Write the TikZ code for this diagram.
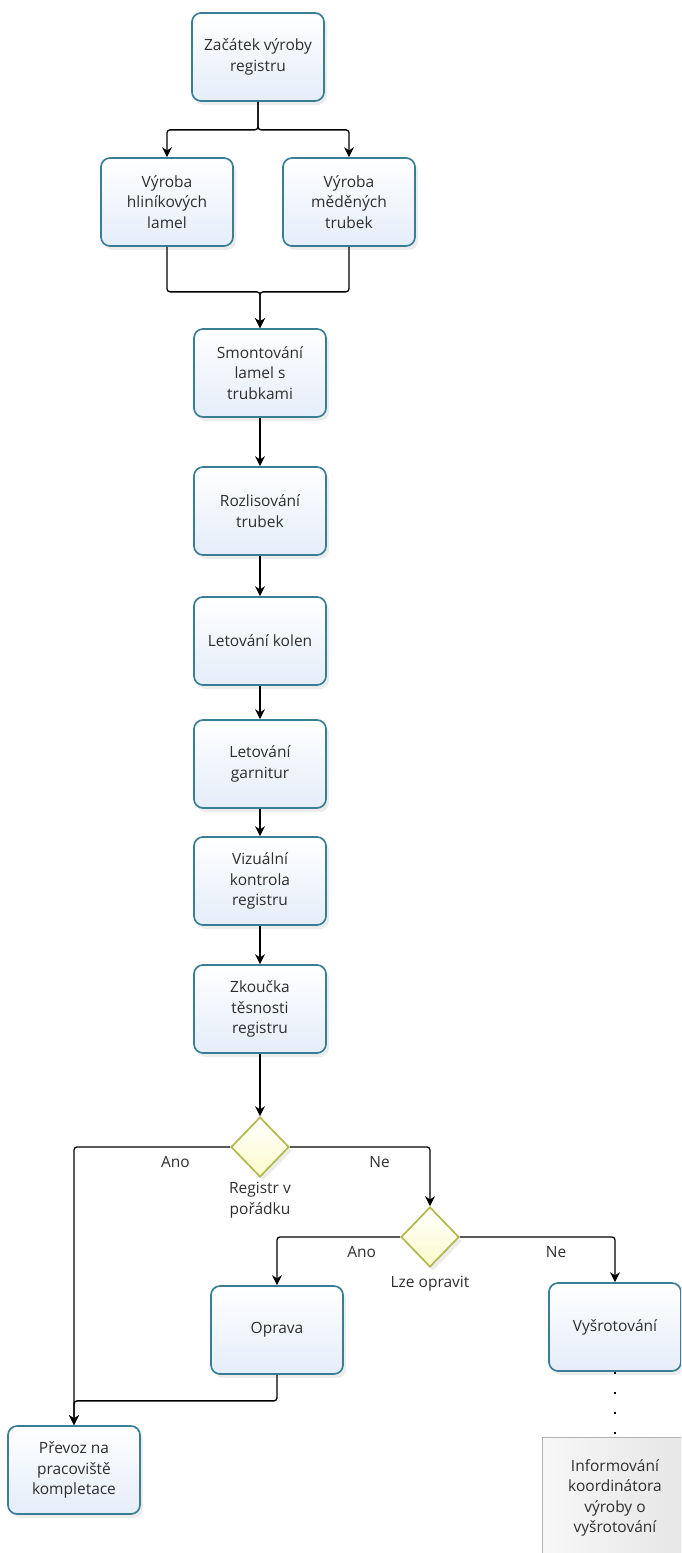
\documentclass[tikz,border=0pt]{standalone}
\usepackage{fontspec}
\setmainfont{Open Sans}
\usetikzlibrary{shapes,shapes.geometric,arrows.meta,positioning,shadows}

\definecolor{boxline}{HTML}{3A7E95}
\definecolor{boxfill}{HTML}{E4EDF9}
\definecolor{decline}{HTML}{B3B84C}
\definecolor{decfill}{HTML}{FBFBCB}
\definecolor{txt}{HTML}{2E2E2E}

\tikzset{
  process/.style={draw=boxline, line width=1.7pt, rounded corners=9pt,
    top color=white, bottom color=boxfill, text=txt, align=center,
    minimum width=132pt, minimum height=88pt, inner sep=2pt,
    drop shadow={shadow xshift=3pt, shadow yshift=-4pt, opacity=0.15}},
  decision/.style={diamond, draw=decline, line width=1.7pt,
    top color=white, bottom color=decfill,
    minimum width=58pt, minimum height=60pt, inner sep=0pt,
    drop shadow={shadow xshift=3pt, shadow yshift=-4pt, opacity=0.15}},
  report/.style={draw=gray!60, line width=0.8pt, left color=gray!6,
    right color=gray!20, text=txt, align=center,
    minimum width=146pt, minimum height=122pt},
  note/.style={text=txt, align=center},
  lbl/.style={text=txt, below=5pt},
  flow/.style={->, line width=1.3pt, rounded corners=3pt},
  dots/.style={line width=2.4pt, dash pattern=on 2.4pt off 17.6pt},
}

\begin{document}
\begin{tikzpicture}[x=1pt, y=-1pt, >={Stealth[length=10pt,width=10pt]},
  font=\fontsize{15.5}{20.5}\selectfont]
  \path[use as bounding box, clip] (0,0) rectangle (681,1553);

  \node [process] (start) at (258,57) {Začátek výroby\\registru};
  \node [process] (alu)   at (167,202) {Výroba\\hliníkových\\lamel};
  \node [process] (cu)    at (349,202) {Výroba\\měděných\\trubek};

  \node [process] (smont) at (260,373) {Smontování\\lamel s\\trubkami};
  \node [process, node distance=138pt] [below of=smont] (rozl)  {Rozlisování\\trubek};
  \node [process, node distance=130pt] [below of=rozl]  (kolen) {Letování kolen};
  \node [process, node distance=123pt] [below of=kolen] (garn)  {Letování\\garnitur};
  \node [process, node distance=117pt] [below of=garn]  (viz)   {Vizuální\\kontrola\\registru};
  \node [process, node distance=128pt] [below of=viz]   (zk)    {Zkoučka\\těsnosti\\registru};
  \node [decision, node distance=138pt] [below of=zk]   (ok)    {};
  \node [note, below=1pt of ok] (oktxt) {Registr v\\pořádku};

  \node [decision] (fix) at (430,1237) {};
  \node [note, below=5pt of fix] (fixtxt) {Lze opravit};

  \node [process] (oprava) at (277,1330) {Oprava};
  \node [process] (srot)   at (615,1327) {Vyšrotování};
  \node [process] (prevoz) at (74,1470)  {Převoz na\\pracoviště\\kompletace};
  \node [report]  (info)   at (615,1498) {Informování\\koordinátora\\výroby o\\vyšrotování};

  \draw[flow] (start.south) -- ++(0,28) -| (alu.north);
  \draw[flow] (start.south) -- ++(0,28) -| (cu.north);
  \draw[flow] (alu.south) -- ++(0,45) -| (smont.north);
  \draw[flow] (cu.south) -- ++(0,45) -| (smont.north);

  \path[flow] (smont) edge (rozl)
              (rozl)  edge (kolen)
              (kolen) edge (garn)
              (garn)  edge (viz)
              (viz)   edge (zk)
              (zk)    edge (ok);

  \draw[flow] (ok.west) -| node[lbl, pos=0.175] {Ano} (prevoz.north);
  \draw[flow] (ok.east) -| node[lbl, pos=0.32] {Ne} (fix.north);
  \draw[flow] (fix.west) -| node[lbl, pos=0.156] {Ano} (oprava.north);
  \draw[flow] (fix.east) -| node[lbl, pos=0.31] {Ne} (srot.north);
  \draw[flow] (oprava.south) -- ++(0,26) -| (prevoz.north);
  \draw[dots] (srot.south) -- (info.north);
\end{tikzpicture}
\end{document}
